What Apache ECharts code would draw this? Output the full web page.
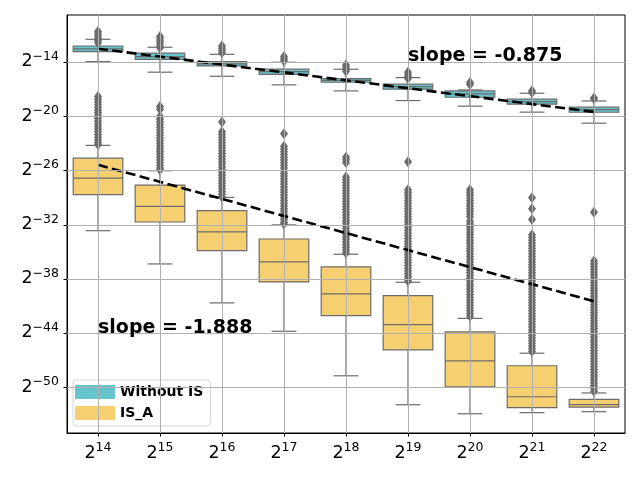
<!DOCTYPE html>
<html>
<head>
<meta charset="utf-8">
<script src="https://cdn.jsdelivr.net/npm/echarts@6/dist/echarts.min.js"></script>
<style>html,body{margin:0;padding:0;background:#fff}#c{width:640px;height:480px}</style>
</head>
<body>
<div id="c"></div>
<script>
// x categories: exponent n of 2^n
const categories = ['14','15','16','17','18','19','20','21','22'];
// y tick exponents (values are log2)
const yTicks = [-14, -20, -26, -32, -38, -44, -50];

// box stats [min whisker, Q1, median, Q3, max whisker] in log2 units
const boxNoIS = [
  [-13.93, -12.83, -12.53, -12.20, -11.46],
  [-15.10, -13.67, -13.38, -13.00, -12.34],
  [-15.55, -14.41, -14.19, -13.93, -13.12],
  [-16.50, -15.33, -15.04, -14.77, -14.00],
  [-17.17, -16.21, -16.00, -15.81, -14.77],
  [-18.24, -16.98, -16.70, -16.43, -15.70],
  [-18.86, -17.87, -17.50, -17.17, -17.06],
  [-19.52, -18.64, -18.35, -18.09, -17.43],
  [-20.74, -19.53, -19.24, -18.97, -18.28]
];
const boxISA = [
  [-32.64, -28.66, -26.82, -24.61, -23.20],
  [-36.32, -31.68, -29.96, -27.59, -26.00],
  [-40.63, -34.85, -32.78, -30.43, -28.96],
  [-43.77, -38.31, -36.10, -33.56, -32.00],
  [-48.70, -42.03, -39.64, -36.65, -35.25],
  [-51.90, -45.82, -43.03, -39.82, -38.35],
  [-52.90, -49.91, -47.04, -43.83, -42.35],
  [-52.78, -52.23, -51.02, -47.59, -46.20],
  [-52.67, -52.17, -51.90, -51.31, -50.60]
];

// outliers per category (dense runs listed point by point)
const outNoIS = [
  [-10.6, -10.85, -11.1, -11.35, -11.6, -11.85],
  [-11.15, -11.4, -11.65, -11.9, -12.15, -12.4],
  [-12.2, -12.45, -12.7, -12.95],
  [-13.35, -13.6, -13.85],
  [-14.3, -14.55, -14.8, -15.0],
  [-15.1, -15.35, -15.6, -15.8],
  [-16.25, -16.45],
  [-17.15, -17.35],
  [-17.95, -18.05]
];
const outISA = [
  [-17.8,-18.1,-18.4,-18.7,-19.0,-19.3,-19.6,-19.9,-20.2,-20.5,-20.8,-21.1,-21.4,-21.7,-22.0,-22.3,-22.6,-22.9,-23.1],
  [-18.9,-19.2,-20.0,-20.3,-20.6,-20.9,-21.2,-21.5,-21.8,-22.1,-22.4,-22.7,-23.0,-23.3,-23.6,-23.9,-24.2,-24.5,-24.8,-25.1,-25.4,-25.7,-25.9],
  [-20.6,-21.7,-22.0,-22.3,-22.6,-22.9,-23.2,-23.5,-23.8,-24.1,-24.4,-24.7,-25.0,-25.3,-25.6,-25.9,-26.2,-26.5,-26.8,-27.1,-27.4,-27.7,-28.0,-28.3,-28.6,-28.9],
  [-21.9,-23.3,-23.6,-23.9,-24.2,-24.5,-24.8,-25.1,-25.4,-25.7,-26.0,-26.3,-26.6,-26.9,-27.2,-27.5,-27.8,-28.1,-28.4,-28.7,-29.0,-29.3,-29.6,-29.9,-30.2,-30.5,-30.8,-31.1,-31.4,-31.7,-31.9],
  [-24.5,-24.8,-25.1,-26.7,-27.0,-27.3,-27.6,-27.9,-28.2,-28.5,-28.8,-29.1,-29.4,-29.7,-30.0,-30.3,-30.6,-30.9,-31.2,-31.5,-31.8,-32.1,-32.4,-32.7,-33.0,-33.3,-33.6,-33.9,-34.2,-34.5,-34.8,-35.1],
  [-25.0,-28.1,-28.4,-28.7,-29.0,-29.3,-29.6,-29.9,-30.2,-30.5,-30.8,-31.1,-31.4,-31.7,-32.0,-32.3,-32.6,-32.9,-33.2,-33.5,-33.8,-34.1,-34.4,-34.7,-35.0,-35.3,-35.6,-35.9,-36.2,-36.5,-36.8,-37.1,-37.4,-37.7,-38.0,-38.2],
  [-28.1,-28.4,-28.7,-29.0,-29.3,-29.6,-29.9,-30.2,-30.5,-30.8,-31.1,-31.6,-31.9,-32.2,-32.5,-32.8,-33.1,-33.4,-33.7,-34.0,-34.3,-34.6,-34.9,-35.2,-35.5,-35.8,-36.1,-36.4,-36.7,-37.0,-37.3,-37.6,-37.9,-38.2,-38.5,-38.8,-39.1,-39.4,-39.7,-40.0,-40.3,-40.6,-40.9,-41.2,-41.5,-41.8,-42.1],
  [-29.0,-30.2,-31.4,-33.1,-33.4,-33.7,-34.0,-34.3,-34.6,-34.9,-35.2,-35.5,-35.8,-36.1,-36.4,-36.7,-37.0,-37.3,-37.6,-37.9,-38.2,-38.5,-38.8,-39.1,-39.4,-39.7,-40.0,-40.3,-40.6,-40.9,-41.2,-41.5,-41.8,-42.1,-42.4,-42.7,-43.0,-43.3,-43.6,-43.9,-44.2,-44.5,-44.8,-45.1,-45.4,-45.7,-46.0],
  [-30.6,-36.0,-36.3,-36.6,-36.9,-37.2,-37.5,-37.8,-38.1,-38.4,-38.7,-39.0,-39.3,-39.6,-39.9,-40.2,-40.5,-40.8,-41.1,-41.4,-41.7,-42.0,-42.3,-42.6,-42.9,-43.2,-43.5,-43.8,-44.1,-44.4,-44.7,-45.0,-45.3,-45.6,-45.9,-46.2,-46.5,-46.8,-47.1,-47.4,-47.7,-48.0,-48.3,-48.6,-48.9,-49.2,-49.5,-49.8,-50.1,-50.4]
];

// fitted slope line end values (at first and last category)
const slopeNoIS = [-12.5, -19.5];
const slopeISA = [-25.35, -40.45];
const slopeLabels = ['slope = -0.875', 'slope = -1.888'];
const seriesNames = ['Without IS', 'IS_A'];

const COL_NOIS = '#66C5CC', COL_ISA = '#F6CF71', EDGE = '#6b6b6b';
const FONT = 'DejaVu Sans';

function boxRender(fill) {
  return function (params, api) {
    const xi = api.value(0);
    const band = api.size([1, 0])[0];
    const hw = band * 0.4, cw = band * 0.2;
    const p = [1,2,3,4,5].map(i => api.coord([xi, api.value(i)]));
    const cx = p[0][0];
    const yMin = p[0][1], yQ1 = p[1][1], yMed = p[2][1], yQ3 = p[3][1], yMax = p[4][1];
    const ls = {stroke: EDGE, lineWidth: 1.2};
    return {
      type: 'group',
      children: [
        {type: 'line', shape: {x1: cx, y1: yQ1, x2: cx, y2: yMin}, style: ls},
        {type: 'line', shape: {x1: cx, y1: yQ3, x2: cx, y2: yMax}, style: ls},
        {type: 'line', shape: {x1: cx - cw, y1: yMin, x2: cx + cw, y2: yMin}, style: ls},
        {type: 'line', shape: {x1: cx - cw, y1: yMax, x2: cx + cw, y2: yMax}, style: ls},
        {type: 'rect', shape: {x: cx - hw, y: yQ3, width: 2 * hw, height: yQ1 - yQ3}, style: {fill: fill, stroke: EDGE, lineWidth: 1.2}},
        {type: 'line', shape: {x1: cx - hw, y1: yMed, x2: cx + hw, y2: yMed}, style: ls}
      ]
    };
  };
}

const boxDataNoIS = boxNoIS.map((b, i) => [i].concat(b));
const boxDataISA = boxISA.map((b, i) => [i].concat(b));
const outData = [];
outNoIS.forEach((arr, i) => arr.forEach(v => outData.push([i, v])));
outISA.forEach((arr, i) => arr.forEach(v => outData.push([i, v])));

const supLabel = v => '{b|2}{s|' + String(v).replace('-', '\u2212') + '}';
const richStyle = {
  b: {fontSize: 17.5, lineHeight: 17, fontFamily: FONT, color: '#000', verticalAlign: 'bottom'},
  s: {fontSize: 12.5, lineHeight: 12, fontFamily: FONT, color: '#000', verticalAlign: 'bottom', padding: [0, 0, 7.5, 0]}
};

const chart = echarts.init(document.getElementById('c'), null, {renderer: 'canvas'});
chart.setOption({
  animation: false,
  backgroundColor: '#fff',
  grid: {left: 67, right: 15, top: 15, bottom: 47, containLabel: false, show: true, borderColor: '#000', borderWidth: 1, backgroundColor: 'transparent'},
  xAxis: {
    type: 'category', data: categories, boundaryGap: true,
    axisLine: {show: true, lineStyle: {color: '#000', width: 1}},
    axisTick: {show: true, alignWithLabel: true, length: 3.5, lineStyle: {color: '#000'}},
    axisLabel: {margin: 12, interval: 0, hideOverlap: false, formatter: supLabel, rich: richStyle},
    splitLine: {show: false}
  },
  yAxis: {
    type: 'value', min: -55.03, max: -8.77,
    axisLine: {show: true, lineStyle: {color: '#000', width: 1}},
    axisTick: {show: true, length: 3.5, lineStyle: {color: '#000'}, customValues: yTicks},
    axisLabel: {margin: 8, customValues: yTicks, formatter: supLabel, rich: richStyle},
    splitLine: {show: false}
  },
  legend: {
    orient: 'vertical', left: 73, top: 380,
    itemWidth: 40, itemHeight: 14, itemGap: 7,
    padding: [5, 7, 6, 2],
    borderColor: '#d5d5d5', borderWidth: 1, borderRadius: 3,
    backgroundColor: 'rgba(255,255,255,0.8)',
    textStyle: {fontFamily: FONT, fontWeight: 'bold', fontSize: 14, color: '#000'},
    data: [
      {name: seriesNames[0], icon: 'rect', itemStyle: {color: COL_NOIS, borderWidth: 0}},
      {name: seriesNames[1], icon: 'rect', itemStyle: {color: COL_ISA, borderWidth: 0}}
    ]
  },
  series: [
    {name: seriesNames[0], type: 'custom', z: 1, renderItem: boxRender(COL_NOIS), itemStyle: {color: COL_NOIS},
     encode: {x: 0, y: [1,2,3,4,5]}, data: boxDataNoIS, silent: true},
    {name: seriesNames[1], type: 'custom', z: 1, renderItem: boxRender(COL_ISA), itemStyle: {color: COL_ISA},
     encode: {x: 0, y: [1,2,3,4,5]}, data: boxDataISA, silent: true},
    {name: 'grid', type: 'line', z: 2, data: [], silent: true,
     markLine: {silent: true, symbol: ['none', 'none'], label: {show: false},
       lineStyle: {color: '#b0b0b0', width: 1, type: 'solid'},
       data: yTicks.map(v => ({yAxis: v})).concat(categories.map((c, i) => ({xAxis: i})))}},
    {name: 'outliers', type: 'scatter', z: 3, symbol: 'diamond', symbolSize: [8, 11],
     itemStyle: {color: EDGE, opacity: 1}, data: outData, silent: true},
    {name: 'fitNoIS', type: 'line', z: 4, symbol: 'none', silent: true,
     lineStyle: {color: '#000', width: 2.6, type: [10, 4.4]},
     data: [[0, slopeNoIS[0]], [categories.length - 1, slopeNoIS[1]]]},
    {name: 'fitISA', type: 'line', z: 4, symbol: 'none', silent: true,
     lineStyle: {color: '#000', width: 2.6, type: [10, 4.4]},
     data: [[0, slopeISA[0]], [categories.length - 1, slopeISA[1]]]}
  ],
  graphic: [
    {type: 'text', left: 408, top: 47, z: 10, style: {text: slopeLabels[0], font: 'bold 19px "DejaVu Sans"', fill: '#000'}},
    {type: 'text', left: 98, top: 319, z: 10, style: {text: slopeLabels[1], font: 'bold 19px "DejaVu Sans"', fill: '#000'}}
  ]
});
</script>
</body>
</html>
